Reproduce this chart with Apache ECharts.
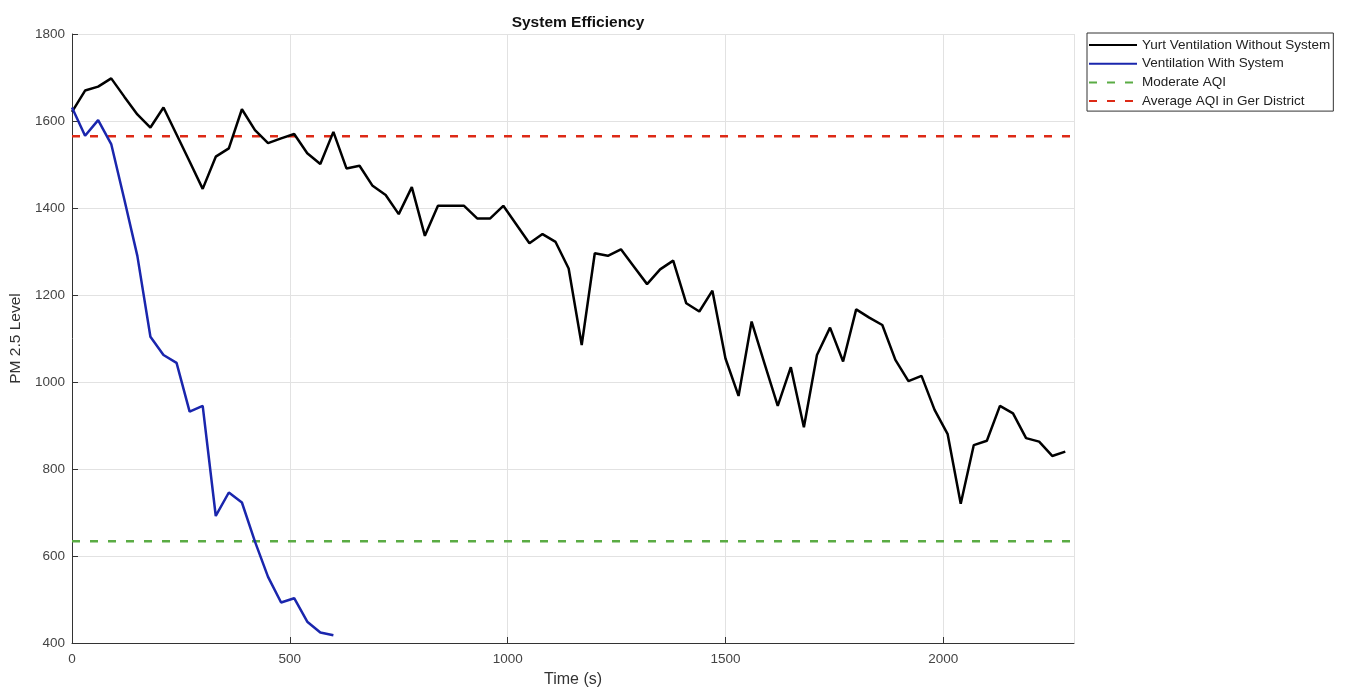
<!DOCTYPE html>
<html lang="en" style="height: 100%">
<head>
  <meta charset="utf-8">
</head>
<body style="height: 100%; margin: 0; background: #fff">
  <div id="container" style="width: 1345px; height: 694px"></div>

  <script type="text/javascript" src="https://cdn.jsdelivr.net/npm/echarts@6/dist/echarts.min.js"></script>

  <script type="text/javascript">
    // time (s) and PM 2.5 readings
    var timeNoSystem = [
      0, 30, 60, 90, 120, 150, 180, 210, 240, 270, 300, 330, 360, 390, 420, 450,
      480, 510, 540, 570, 600, 630, 660, 690, 720, 750, 780, 810, 840, 870, 900,
      930, 960, 990, 1020, 1050, 1080, 1110, 1140, 1170, 1200, 1230, 1260, 1290,
      1320, 1350, 1380, 1410, 1440, 1470, 1500, 1530, 1560, 1590, 1620, 1650,
      1680, 1710, 1740, 1770, 1800, 1830, 1860, 1890, 1920, 1950, 1980, 2010,
      2040, 2070, 2100, 2130, 2160, 2190, 2220, 2250, 2280
    ];
    var pmNoSystem = [
      1621, 1670, 1679, 1698, 1656, 1615, 1585, 1631, 1569, 1507, 1444, 1518,
      1537, 1627, 1579, 1549, 1560, 1570, 1526, 1501, 1575, 1491, 1497, 1451,
      1430, 1386, 1448, 1336, 1405, 1405, 1405, 1376, 1376, 1405, 1362, 1319,
      1340, 1322, 1261, 1085, 1296, 1290, 1305, 1265, 1225, 1259, 1279, 1181,
      1162, 1210, 1054, 968, 1139, 1041, 945, 1034, 896, 1062, 1125, 1047,
      1167, 1148, 1131, 1051, 1002, 1014, 936, 880, 720, 855, 865, 945,
      928, 871, 863, 830, 840
    ];
    var timeWithSystem = [
      0, 30, 60, 90, 120, 150, 180, 210, 240, 270, 300, 330, 360, 390, 420, 450,
      480, 510, 540, 570, 600
    ];
    var pmWithSystem = [
      1631, 1566, 1602, 1547, 1420, 1290, 1104, 1062, 1044, 932, 945, 692,
      746, 723, 633, 552, 493, 503, 449, 424, 418
    ];
    var refTime = [0, 2300];
    var moderateAqi = [634, 634];
    var gerDistrictAqi = [1565, 1565];

    function pairs(xs, ys) {
      return xs.map(function (x, i) { return [x, ys[i]]; });
    }

    var dom = document.getElementById('container');
    var myChart = echarts.init(dom, null, { renderer: 'canvas' });
    var font = 'Liberation Sans, Arial, Helvetica, sans-serif';
    var plain = function (v) { return String(v); };
    var option;

    option = {
      animation: false,
      backgroundColor: '#fff',
      title: {
        text: 'System Efficiency',
        left: 573,
        textAlign: 'center',
        top: 10,
        textStyle: { fontFamily: font, fontSize: 15.5, fontWeight: 'bold', color: '#111' }
      },
      legend: {
        orient: 'vertical',
        left: 1087,
        top: 33,
        itemWidth: 48,
        itemHeight: 14,
        itemGap: 4.7,
        padding: [5, 3, 3, 1],
        borderColor: '#333',
        borderWidth: 1,
        textStyle: { fontFamily: font, fontSize: 13.5, color: '#222' },
        data: [
          'Yurt Ventilation Without System',
          'Ventilation With System',
          'Moderate AQI',
          'Average AQI in Ger District'
        ]
      },
      grid: { left: 72, right: 271, top: 34, bottom: 51 },
      xAxis: {
        type: 'value',
        min: 0,
        max: 2300,
        interval: 500,
        name: 'Time (s)',
        nameLocation: 'middle',
        nameGap: 29,
        nameTextStyle: { fontFamily: font, fontSize: 16, color: '#333' },
        axisLine: { lineStyle: { color: '#333', width: 1 } },
        axisTick: { inside: true, length: 6, lineStyle: { color: '#333' } },
        axisLabel: { fontFamily: font, fontSize: 13.5, color: '#444', margin: 9, showMaxLabel: false, formatter: plain },
        splitLine: { show: true, lineStyle: { color: '#e2e2e2', width: 1 } }
      },
      yAxis: {
        type: 'value',
        min: 400,
        max: 1800,
        interval: 200,
        name: 'PM 2.5 Level',
        nameLocation: 'middle',
        nameGap: 39,
        nameTextStyle: { fontFamily: font, fontSize: 15.5, color: '#333' },
        axisLine: { show: true, lineStyle: { color: '#333', width: 1 } },
        axisTick: { show: true, inside: true, length: 6, lineStyle: { color: '#333' } },
        axisLabel: { fontFamily: font, fontSize: 13.5, color: '#444', margin: 7, formatter: plain },
        splitLine: { show: true, lineStyle: { color: '#e2e2e2', width: 1 } }
      },
      series: [
        {
          name: 'Yurt Ventilation Without System',
          type: 'line',
          symbol: 'none',
          data: pairs(timeNoSystem, pmNoSystem),
          lineStyle: { color: '#000', width: 2.5 },
          itemStyle: { color: '#000', opacity: 0 },
          z: 3
        },
        {
          name: 'Ventilation With System',
          type: 'line',
          symbol: 'none',
          data: pairs(timeWithSystem, pmWithSystem),
          lineStyle: { color: '#1a26ad', width: 2.5 },
          itemStyle: { color: '#1a26ad', opacity: 0 },
          z: 4
        },
        {
          name: 'Moderate AQI',
          type: 'line',
          symbol: 'none',
          data: pairs(refTime, moderateAqi),
          lineStyle: { color: '#5aac44', width: 2.5, type: [8, 10] },
          itemStyle: { color: '#5aac44', opacity: 0 },
          z: 2
        },
        {
          name: 'Average AQI in Ger District',
          type: 'line',
          symbol: 'none',
          data: pairs(refTime, gerDistrictAqi),
          lineStyle: { color: '#dd2a16', width: 2.5, type: [8, 10] },
          itemStyle: { color: '#dd2a16', opacity: 0 },
          z: 2
        }
      ]
    };

    if (option && typeof option === 'object') {
      myChart.setOption(option);
    }

    window.addEventListener('resize', myChart.resize);
  </script>
</body>
</html>
